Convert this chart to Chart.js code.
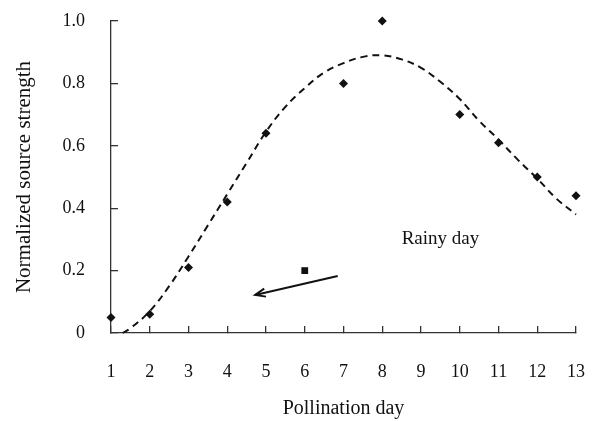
<!DOCTYPE html>
<html>
<head>
<meta charset="utf-8">
<script src="https://cdn.jsdelivr.net/npm/chart.js@4"></script>
<style>
  html, body { margin: 0; padding: 0; background: #fff; }
  #wrap { width: 597px; height: 421px; position: relative; }
</style>
</head>
<body>
<div id="wrap"><canvas id="c" width="597" height="421"></canvas></div>
<script>
// Observed data (sunny days)
const days = [1, 2, 3, 4, 5, 7, 8, 10, 11, 12, 13];
const strength = [0.05, 0.06, 0.21, 0.42, 0.64, 0.80, 1.00, 0.70, 0.61, 0.50, 0.44];
// Rainy day observation
const rainyDay = [6];
const rainyStrength = [0.20];
// Fitted (dashed) curve
const curveX = [1.3, 1.5, 2, 2.5, 3, 3.5, 4, 4.5, 5, 5.5, 6, 6.5, 7, 7.5, 8, 8.5, 9, 9.5, 10, 10.5, 11, 11.5, 12, 12.5, 13];
const curveY = [0.0, 0.015, 0.07, 0.15, 0.245, 0.345, 0.445, 0.545, 0.645, 0.725, 0.785, 0.835, 0.865, 0.885, 0.89, 0.877, 0.85, 0.805, 0.75, 0.68, 0.62, 0.555, 0.495, 0.43, 0.38];
// Annotation arrow (from, to) in data units and label
const arrowX = [6.85, 4.72];
const arrowY = [0.183, 0.122];
const labelText = 'Rainy day';
const labelPos = [8.5, 0.30];
const xTitle = 'Pollination day';
const yTitle = 'Normalized source strength';

const FONT = "'Liberation Serif', 'Times New Roman', serif";
const INK = '#111';

const annot = {
  id: 'annot',
  afterDatasetsDraw(chart) {
    const {ctx, scales: {x, y}} = chart;
    const x1 = x.getPixelForValue(arrowX[0]), y1 = y.getPixelForValue(arrowY[0]);
    const x2 = x.getPixelForValue(arrowX[1]), y2 = y.getPixelForValue(arrowY[1]);
    ctx.save();
    ctx.strokeStyle = INK;
    ctx.lineWidth = 2;
    ctx.beginPath();
    ctx.moveTo(x1, y1);
    ctx.lineTo(x2, y2);
    ctx.stroke();
    const ang = Math.atan2(y2 - y1, x2 - x1);
    const L = 11, W = 0.38;
    ctx.beginPath();
    ctx.moveTo(x2 - L * Math.cos(ang - W), y2 - L * Math.sin(ang - W));
    ctx.lineTo(x2, y2);
    ctx.lineTo(x2 - L * Math.cos(ang + W), y2 - L * Math.sin(ang + W));
    ctx.stroke();
    ctx.fillStyle = INK;
    ctx.font = "19px " + FONT;
    ctx.textAlign = 'left';
    ctx.textBaseline = 'middle';
    ctx.fillText(labelText, x.getPixelForValue(labelPos[0]), y.getPixelForValue(labelPos[1]));
    ctx.restore();
  }
};

function zeroPad(s) { s.paddingLeft = 0; s.paddingRight = 0; s.paddingTop = 0; s.paddingBottom = 0; }

const chart = new Chart(document.getElementById('c'), {
  type: 'scatter',
  data: {
    datasets: [
      {
        type: 'line',
        data: curveX.map((v, i) => ({x: v, y: curveY[i]})),
        borderColor: INK,
        borderWidth: 2,
        borderDash: [7, 5],
        pointRadius: 0,
        tension: 0.4,
        fill: false,
        clip: false
      },
      {
        data: days.map((v, i) => ({x: v, y: strength[i]})),
        pointStyle: 'rectRot',
        pointRadius: 4.5,
        backgroundColor: INK,
        borderColor: INK,
        borderWidth: 0,
        clip: false
      },
      {
        data: rainyDay.map((v, i) => ({x: v, y: rainyStrength[i]})),
        pointStyle: 'rect',
        pointRadius: 4.8,
        backgroundColor: INK,
        borderColor: INK,
        borderWidth: 0,
        clip: false
      }
    ]
  },
  options: {
    responsive: false,
    animation: false,
    devicePixelRatio: 1,
    layout: { autoPadding: false, padding: { left: 0, top: 21, right: 21, bottom: 0 } },
    plugins: { legend: { display: false }, tooltip: { enabled: false } },
    scales: {
      x: {
        type: 'linear',
        min: 1, max: 13,
        afterFit(s) { s.height = 88; zeroPad(s); },
        border: { display: true, color: '#333', width: 1.3 },
        grid: { drawOnChartArea: false, drawTicks: true, tickLength: -7, color: '#333', lineWidth: 1.3 },
        ticks: { stepSize: 1, color: INK, font: { family: FONT, size: 18 }, padding: 35, maxRotation: 0, autoSkip: false },
        title: { display: true, text: xTitle, color: INK, font: { family: FONT, size: 20 }, padding: { top: 0, bottom: 0 } }
      },
      y: {
        min: 0, max: 1,
        afterFit(s) { s.width = 111; zeroPad(s); },
        border: { display: true, color: '#333', width: 1.3 },
        grid: { drawOnChartArea: false, drawTicks: true, tickLength: -7, color: '#333', lineWidth: 1.3 },
        ticks: { stepSize: 0.2, color: INK, font: { family: FONT, size: 18 }, padding: 33,
                 callback: v => (v === 0 ? '0' : v.toFixed(1)) },
        title: { display: true, text: yTitle, color: INK, font: { family: FONT, size: 21 }, padding: { top: 12, bottom: 0 } }
      }
    }
  },
  plugins: [annot]
});
</script>
</body>
</html>
